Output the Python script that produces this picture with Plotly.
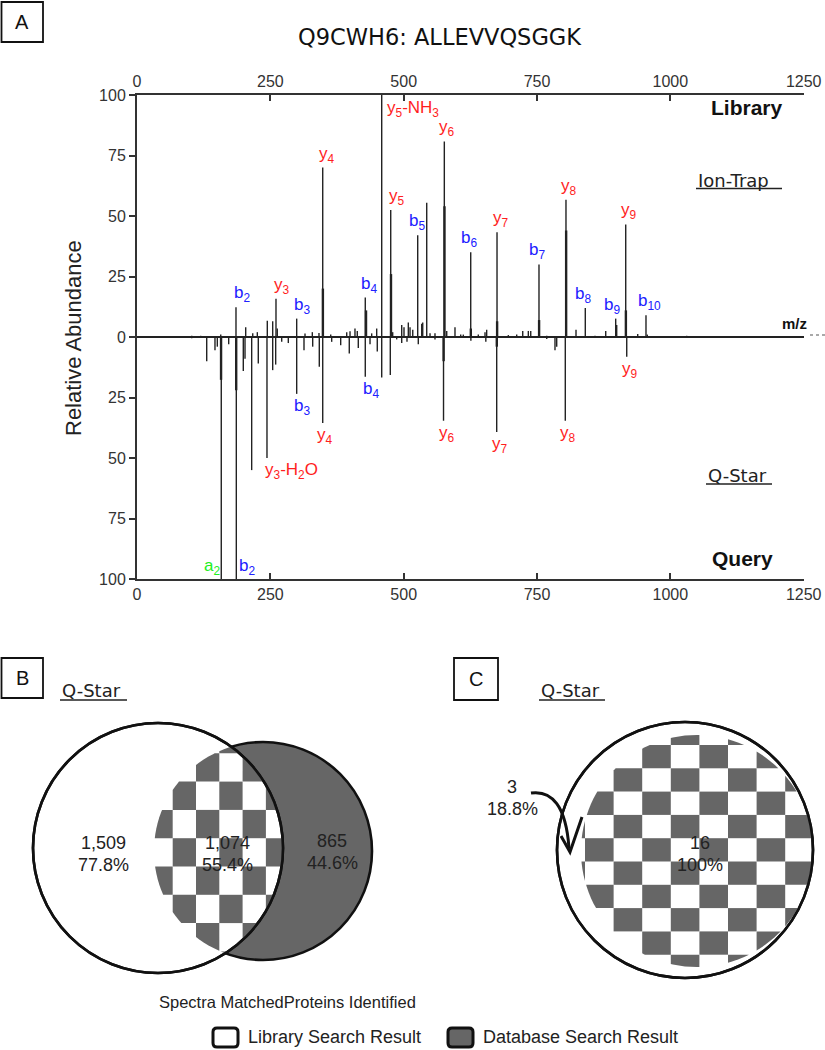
import plotly.graph_objects as go
import math

# ---------------- DATA ----------------
TITLE = "Q9CWH6: ALLEVVQSGGK"
mz_ticks = [0, 250, 500, 750, 1000, 1250]
abund_ticks = [-100, -75, -50, -25, 0, 25, 50, 75, 100]

# Library (Ion-Trap) spectrum, plotted upward
lib_mz = [102.6, 119.4, 157.0, 185.6, 203.8, 217.0, 225.6, 244.3, 254.4, 260.6, 263.0,
          299.4, 315.0, 328.7, 341.2, 348.2, 363.2, 393.2, 399.4, 408.7, 413.0, 428.0,
          440.0, 449.4, 458.8, 475.7, 479.4, 496.3, 500.6, 508.7, 511.9, 517.0, 526.3,
          533.8, 535.7, 543.2, 549.4, 558.7, 576.2, 580.7, 596.2, 606.9, 611.8, 625.7,
          639.9, 652.5, 655.6, 675.0, 696.2, 711.9, 723.2, 733.7, 738.2, 753.7, 768.2,
          804.3, 823.1, 840.5, 858.7, 878.8, 897.5, 899.4, 916.3, 938.8, 954.3, 956.8, 1030.6]
lib_int = [0.5, 0.5, 1.0, 12.3, 4.0, 1.5, 2.0, 6.7, 6.5, 15.8, 3.5,
           7.6, 1.4, 2.0, 1.7, 70.0, 1.0, 2.0, 2.4, 3.5, 2.5, 16.3,
           1.5, 3.5, 100.0, 52.5, 2.0, 5.0, 4.0, 6.0, 4.0, 3.0, 42.0,
           5.5, 6.0, 55.5, 1.5, 1.5, 80.8, 2.5, 4.0, 1.0, 1.0, 35.0,
           1.0, 2.0, 3.0, 43.3, 0.8, 1.0, 2.5, 2.5, 2.5, 30.0, 0.5,
           56.7, 3.0, 12.0, 0.5, 2.5, 7.6, 5.0, 46.5, 1.2, 9.0, 1.0, 0.5]
# overlapping (shoulder) peaks in the library spectrum
lib2_mz = [348.5, 429.4, 476.2, 576.5, 625.9, 675.2, 753.9, 804.6, 916.6]
lib2_int = [20.0, 11.0, 26.0, 54.0, 3.5, 6.5, 7.0, 44.0, 11.0]

# Query (Q-Star) spectrum, plotted downward
qry_mz = [102.6, 130.7, 146.2, 150.6, 158.0, 171.9, 186.2, 199.3, 202.5, 215.0, 227.4,
          243.7, 254.4, 260.0, 271.3, 283.7, 299.4, 313.1, 329.4, 341.8, 348.2, 365.0,
          381.9, 398.0, 414.9, 428.0, 436.9, 450.5, 458.8, 474.9, 486.9, 496.3, 506.2,
          527.4, 558.7, 574.7, 626.0, 654.0, 674.4, 768.2, 783.7, 786.9, 803.0, 918.2]
qry_int = [0.5, 10.0, 5.5, 4.0, 100.0, 3.0, 100.0, 14.0, 9.0, 55.0, 11.0,
           50.0, 13.7, 11.4, 2.0, 2.5, 23.5, 5.5, 4.0, 12.3, 35.5, 2.0,
           3.4, 6.8, 4.5, 16.4, 3.0, 6.0, 16.7, 15.7, 1.0, 2.5, 2.0,
           3.0, 1.0, 34.6, 1.5, 2.0, 39.3, 0.8, 5.5, 4.0, 34.6, 8.2]
qry2_mz = [157.6, 186.0, 574.9, 674.6]
qry2_int = [17.7, 22.0, 10.0, 4.0]

# annotated fragment ions (positive abundance = library, negative = query)
ion_name = ["b", "y", "b", "y", "b", "y", "b", "y", "b", "y", "b", "y", "b", "b", "y", "b",
            "b", "y", "b", "y", "y", "y", "y"]
ion_num = ["2", "3", "3", "4", "4", "5", "5", "6", "6", "7", "7", "8", "8", "9", "9", "10",
           "3", "4", "4", "6", "7", "8", "9"]
ion_mz = [185.6, 260.6, 299.4, 348.2, 428.0, 475.7, 526.3, 576.2, 625.7, 675.0, 753.7,
          804.3, 840.5, 897.5, 916.3, 954.3,
          299.4, 348.2, 428.0, 574.7, 674.4, 803.0, 918.2]
ion_abund = [12.3, 15.8, 7.6, 70.0, 16.3, 52.5, 42.0, 80.8, 35.0, 43.3, 30.0,
             56.7, 12.0, 7.6, 46.5, 9.0,
             -23.5, -35.5, -16.4, -34.6, -39.3, -34.6, -8.2]

# Venn counts
venn_b_counts = [1509, 1074, 865]
venn_b_pct = [77.8, 55.4, 44.6]
venn_c_counts = [3, 16]
venn_c_pct = [18.8, 100]

# ---------------- STYLE / LAYOUT ----------------
W, H = 825, 1050
FONT = "Liberation Sans, Arial, sans-serif"
WIDE = "DejaVu Sans, Liberation Sans, sans-serif"
RED, BLUE, GREEN = "#ff1e1e", "#2020ff", "#22ee22"
GRAY = "#666666"
ion_dx = [6, 6, 5, 4, 4, 6, -1, 3, -2, 4, -2, 3, -2, -4, 3, 4,
          5, 2, 6, 3, 3, 3, 3]

X0, X1 = 137, 803.7   # spectrum plot area in px
Y0, Y1 = 95, 579

fig = go.Figure()


def sticks(mz, inten, sign):
    xs, ys = [], []
    for m, v in zip(mz, inten):
        xs += [m, m, None]
        ys += [0, sign * v, None]
    return xs, ys


for mz, it, sg, w in [(lib_mz, lib_int, 1, 1.4), (lib2_mz, lib2_int, 1, 2.4),
                      (qry_mz, qry_int, -1, 1.4), (qry2_mz, qry2_int, -1, 2.4)]:
    xs, ys = sticks(mz, it, sg)
    fig.add_trace(go.Scatter(x=xs, y=ys, mode="lines", line=dict(color="#222", width=w),
                             hoverinfo="skip", showlegend=False))

# helper axis in pixel units for the Venn panels
fig.add_trace(go.Scatter(x=[0], y=[0], xaxis="x3", yaxis="y3", mode="markers",
                         marker=dict(opacity=0), hoverinfo="skip", showlegend=False))
fig.add_trace(go.Scatter(x=[0], y=[0], xaxis="x2", yaxis="y", mode="markers",
                         marker=dict(opacity=0), hoverinfo="skip", showlegend=False))

axfont = dict(family=FONT, size=16, color="#333")
fig.update_layout(
    width=W, height=H, autosize=False, margin=dict(l=0, r=0, t=0, b=0, pad=0),
    paper_bgcolor="white", plot_bgcolor="rgba(0,0,0,0)", showlegend=False,
    xaxis=dict(domain=[X0 / W, X1 / W], range=[0, 1250], anchor="y", side="bottom",
               tickvals=mz_ticks, ticks="inside", ticklen=6, tickwidth=1.5, tickcolor="#333",
               showline=True, linecolor="#333", linewidth=2, showgrid=False, zeroline=False,
               tickfont=axfont, automargin=False),
    xaxis2=dict(domain=[X0 / W, X1 / W], range=[0, 1250], anchor="y", side="top",
                overlaying="x", tickvals=mz_ticks, ticks="inside", ticklen=6, tickwidth=1.5,
                tickcolor="#333", showline=True, linecolor="#333", linewidth=2,
                showgrid=False, zeroline=False, tickfont=axfont, automargin=False),
    yaxis=dict(domain=[1 - Y1 / H, 1 - Y0 / H], range=[-100, 100], anchor="x",
               tickvals=abund_ticks, ticktext=[str(abs(v)) for v in abund_ticks],
               ticks="outside", ticklen=6, tickwidth=1.5, tickcolor="#333",
               showline=True, linecolor="#333", linewidth=2, showgrid=False,
               zeroline=True, zerolinecolor="#222", zerolinewidth=1.5, tickfont=axfont,
               automargin=False),
    xaxis3=dict(domain=[0, 1], range=[0, W], visible=False, anchor="y3", automargin=False),
    yaxis3=dict(domain=[0, 1], range=[H, 0], visible=False, anchor="x3", automargin=False),
)

ann = []
shp = []


def text(x, y, s, size=15, color="#222", xanchor="center", yanchor="middle", family=FONT, **kw):
    ann.append(dict(x=x, y=y, xref="x3", yref="y3", text=s, showarrow=False,
                    font=dict(family=family, size=size, color=color),
                    xanchor=xanchor, yanchor=yanchor, **kw))


def uline(x0, x1, y):
    shp.append(dict(type="line", xref="x3", yref="y3", x0=x0, x1=x1, y0=y, y1=y,
                    line=dict(color="#222", width=1.4)))


# ion labels
LBL = 17
for n, k, m, a, dx in zip(ion_name, ion_num, ion_mz, ion_abund, ion_dx):
    ann.append(dict(x=m, y=a, xref="x", yref="y", text=f"{n}<sub>{k}</sub>", showarrow=False,
                    font=dict(family=FONT, size=LBL, color=RED if n == "y" else BLUE),
                    xanchor="center", yanchor="bottom" if a > 0 else "top",
                    xshift=dx, yshift=0 if a > 0 else 0))
# special labels
ann.append(dict(x=lib_mz[24], y=lib_int[24], xref="x", yref="y", showarrow=False,
                text="y<sub>5</sub>-NH<sub>3</sub>", font=dict(family=FONT, size=LBL, color=RED),
                xanchor="left", yanchor="top", xshift=3, yshift=-1))
ann.append(dict(x=qry_mz[11], y=-qry_int[11], xref="x", yref="y", showarrow=False,
                text="y<sub>3</sub>-H<sub>2</sub>O", font=dict(family=FONT, size=LBL, color=RED),
                xanchor="left", yanchor="top", xshift=-4, yshift=0))
ann.append(dict(x=qry_mz[4], y=-qry_int[4], xref="x", yref="y", showarrow=False,
                text="a<sub>2</sub>", font=dict(family=FONT, size=LBL, color=GREEN),
                xanchor="right", yanchor="bottom", xshift=1, yshift=-1))
ann.append(dict(x=qry_mz[6], y=-qry_int[6], xref="x", yref="y", showarrow=False,
                text="b<sub>2</sub>", font=dict(family=FONT, size=LBL, color=BLUE),
                xanchor="left", yanchor="bottom", xshift=1, yshift=-1))

# panel A texts
text(440, 37, TITLE, size=22.5, color="#111", family=WIDE)
text(22, 22, "A", size=20, color="#111")
shp.append(dict(type="rect", xref="x3", yref="y3", x0=1.5, y0=2, x1=43, y1=42,
                line=dict(color="#111", width=1.8)))
text(747, 107, "<b>Library</b>", size=21, color="#111")
text(742, 558, "<b>Query</b>", size=21, color="#111")
text(696, 180, "Ion-Trap", size=18, xanchor="left", family=WIDE)
uline(696, 782, 188.5)
text(706, 475, "Q-Star", size=18, xanchor="left", family=WIDE)
uline(706, 772, 484)
text(794, 323, "<b>m/z</b>", size=15, color="#111")
shp.append(dict(type="line", xref="x3", yref="y3", x0=810, x1=825, y0=335, y1=335,
                line=dict(color="#555", width=1.2, dash="dot")))
text(73, 338, "Relative Abundance", size=22, textangle=-90)


# ---------------- panels B & C ----------------
def circle_poly(cx, cy, r, n=120):
    return [(cx + r * math.cos(2 * math.pi * i / n), cy + r * math.sin(2 * math.pi * i / n))
            for i in range(n)]


def clip(subject, clipper, center):
    out = subject
    m = len(clipper)
    for i in range(m):
        a, b = clipper[i], clipper[(i + 1) % m]
        ex, ey = b[0] - a[0], b[1] - a[1]
        sgn = ex * (center[1] - a[1]) - ey * (center[0] - a[0])

        def side(p):
            return (ex * (p[1] - a[1]) - ey * (p[0] - a[0])) * sgn

        inp = out
        out = []
        if not inp:
            break
        s = inp[-1]
        for e in inp:
            if side(e) >= 0:
                if side(s) < 0:
                    d1, d2 = side(s), side(e)
                    t = d1 / (d1 - d2)
                    out.append((s[0] + t * (e[0] - s[0]), s[1] + t * (e[1] - s[1])))
                out.append(e)
            elif side(s) >= 0:
                d1, d2 = side(s), side(e)
                t = d1 / (d1 - d2)
                out.append((s[0] + t * (e[0] - s[0]), s[1] + t * (e[1] - s[1])))
            s = e
    return out


def path(pts):
    return "M " + " L ".join(f"{x:.1f},{y:.1f}" for x, y in pts) + " Z"


def checker(ox, oy, cw, chh, parity, xr, yr, discs):
    for i in range(-6, 14):
        for j in range(-6, 14):
            if (i + j) % 2 != parity:
                continue
            x0, y0 = ox + i * cw, oy + j * chh
            if x0 + cw < xr[0] or x0 > xr[1] or y0 + chh < yr[0] or y0 > yr[1]:
                continue
            poly = [(x0, y0), (x0 + cw, y0), (x0 + cw, y0 + chh), (x0, y0 + chh)]
            for (cx, cy, r) in discs:
                poly = clip(poly, circle_poly(cx, cy, r), (cx, cy))
                if len(poly) < 3:
                    break
            if len(poly) >= 3:
                shp.append(dict(type="path", xref="x3", yref="y3", path=path(poly),
                                fillcolor=GRAY, line=dict(width=0)))


def circ(cx, cy, r, fill, lw=2.6):
    shp.append(dict(type="circle", xref="x3", yref="y3", x0=cx - r, x1=cx + r,
                    y0=cy - r, y1=cy + r, fillcolor=fill, line=dict(color="#111", width=lw)))


VN = 18  # Venn number font size

# B
LB = (158, 848, 125)
RB = (263, 851, 109)
circ(*RB, GRAY)
circ(*LB, "white")
checker(172.7, 753.3, 23.3, 28.3, 1, (140, 300), (700, 1000), [LB, RB])
circ(*LB, "rgba(0,0,0,0)")
text(22, 678, "B", size=20, color="#111")
shp.append(dict(type="rect", xref="x3", yref="y3", x0=1.5, y0=658, x1=43, y1=698,
                line=dict(color="#111", width=1.8)))
text(60, 690, "Q-Star", size=18, xanchor="left", family=WIDE)
uline(60, 127, 700)
for cx, cy, n, p in zip([103, 227, 332], [843, 843, 841], venn_b_counts, venn_b_pct):
    text(cx, cy, f"{n:,}", size=VN)
    text(cx, cy + 21.5, f"{p}%", size=VN)
text(157, 1002, "Spectra MatchedProteins Identified", size=16.5, xanchor="left")

# C
OC = (685, 850, 128)
IC = (697, 851, 116)
circ(*OC, "white")
checker(585, 745, 28.6, 23.3, 0, (560, 820), (720, 990), [IC])
circ(*OC, "rgba(0,0,0,0)")
text(476, 679, "C", size=20, color="#111")
shp.append(dict(type="rect", xref="x3", yref="y3", x0=454, y0=658, x1=498, y1=700,
                line=dict(color="#111", width=1.8)))
text(539, 690, "Q-Star", size=18, xanchor="left", family=WIDE)
uline(539, 605, 700)
for cx, cy, n, p in zip([512, 700], [787, 843], venn_c_counts, venn_c_pct):
    text(cx, cy, f"{n}", size=VN)
    text(cx, cy + 21.5, f"{p}%", size=VN)
shp.append(dict(type="path", xref="x3", yref="y3",
                path="M 531,793 C 552,790 566,806 569,848",
                line=dict(color="#111", width=3)))
shp.append(dict(type="path", xref="x3", yref="y3",
                path="M 561,836 L 570,852 L 582,817",
                line=dict(color="#111", width=3)))


# legend
def rrect(x0, y0, x1, y1, r):
    return (f"M {x0+r},{y0} L {x1-r},{y0} Q {x1},{y0} {x1},{y0+r} L {x1},{y1-r} "
            f"Q {x1},{y1} {x1-r},{y1} L {x0+r},{y1} Q {x0},{y1} {x0},{y1-r} "
            f"L {x0},{y0+r} Q {x0},{y0} {x0+r},{y0} Z")


shp.append(dict(type="path", xref="x3", yref="y3", path=rrect(213, 1028, 238, 1047, 4),
                fillcolor="white", line=dict(color="#111", width=3)))
text(246, 1037, "Library Search Result", size=18, xanchor="left")
shp.append(dict(type="path", xref="x3", yref="y3", path=rrect(448, 1028, 473, 1047, 4),
                fillcolor=GRAY, line=dict(color="#111", width=3)))
text(481, 1037, "Database Search Result", size=18, xanchor="left")

fig.update_layout(annotations=ann, shapes=shp)
post = ("document.documentElement.style.overflow='hidden';"
        "document.body.style.margin='0';document.body.style.overflow='hidden';"
        "var gd=document.getElementById('{plot_id}');"
        "Plotly.relayout(gd,{width:825,height:1050});")
fig.write_html("out.html", config={"displayModeBar": False, "responsive": False},
               post_script=post)
